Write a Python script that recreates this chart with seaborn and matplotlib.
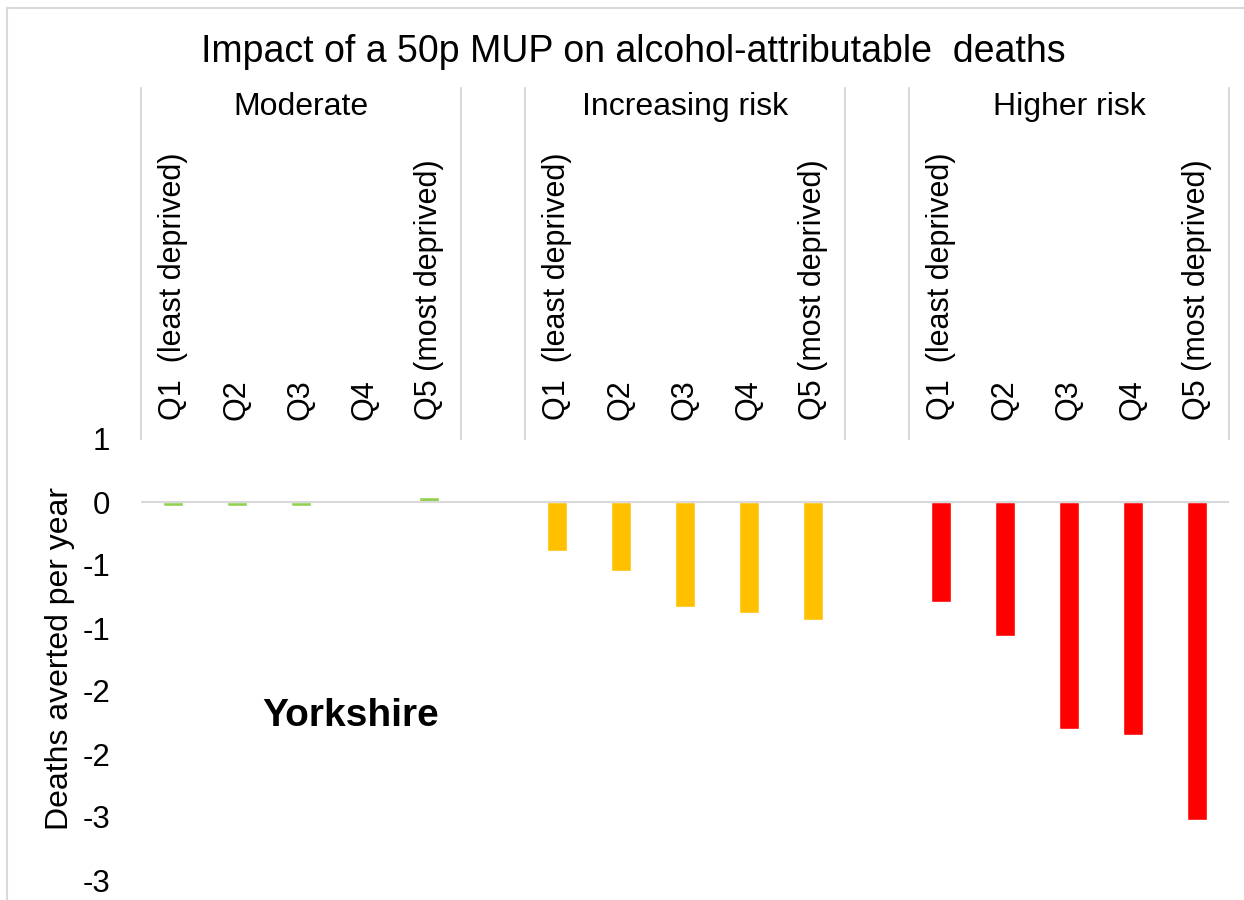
import matplotlib
matplotlib.use("Agg")
import pandas as pd
import matplotlib.pyplot as plt
from matplotlib.lines import Line2D
from matplotlib.transforms import blended_transform_factory
import seaborn as sns

# data
groups = ["Moderate", "Increasing risk", "Higher risk"]
quintiles = ["Q1  (least deprived)", "Q2", "Q3", "Q4", "Q5 (most deprived)"]
moderate = [-0.03, -0.03, -0.03, -0.01, 0.04]
increasing_risk = [-0.39, -0.55, -0.83, -0.88, -0.94]
higher_risk = [-0.79, -1.06, -1.80, -1.85, -2.52]
group_colors = ["#92D050", "#FFC000", "#FF0000"]
ytick_values = [0.5, 0.0, -0.5, -1.0, -1.5, -2.0, -2.5, -3.0]
ytick_labels = ["1", "0", "-1", "-1", "-2", "-2", "-3", "-3"]

# build long table, with an empty slot between groups
rows = []
order = []
tick_text = []
for gi, (g, vals) in enumerate(zip(groups, [moderate, increasing_risk, higher_risk])):
    if gi > 0:
        order.append(f"gap{gi}")
        tick_text.append("")
    for q, v in zip(quintiles, vals):
        slot = f"{g}|{q}"
        rows.append({"slot": slot, "group": g, "value": v})
        order.append(slot)
        tick_text.append(q)
df = pd.DataFrame(rows)

sns.set_theme(style="white")
plt.rcParams["font.family"] = ["Liberation Sans", "DejaVu Sans"]
plt.rcParams["text.color"] = "black"
plt.rcParams["xtick.color"] = "black"
plt.rcParams["ytick.color"] = "black"

W, H = 1244, 900
fig = plt.figure(figsize=(W / 100, H / 100), dpi=100)
ax = fig.add_axes([141 / W, 20 / H, 1088 / W, 441 / H])

sns.barplot(data=df, x="slot", y="value", hue="group", order=order, hue_order=groups,
            palette=dict(zip(groups, group_colors)), dodge=False, width=0.31,
            saturation=1, legend=False, ax=ax)

ax.axhline(0, color="#D9D9D9", lw=1.5, zorder=3)
ax.set_xlim(-0.5, len(order) - 0.5)
ax.set_ylim(-3.0, 0.5)
ax.set_xticks(range(len(order)))
ax.set_xticklabels(tick_text, rotation=90, fontsize=22)
ax.tick_params(axis="x", top=False, bottom=False, labeltop=True, labelbottom=False, length=0, pad=14)
ax.set_yticks(ytick_values)
ax.set_yticklabels(ytick_labels, fontsize=22.5)
ax.tick_params(axis="y", length=0, pad=22)
ax.set_xlabel("")
ax.set_ylabel("")
for s in ax.spines.values():
    s.set_visible(False)

# group separators and group names above the plot area
trans = blended_transform_factory(ax.transData, fig.transFigure)
for x in [-0.5, 4.5, 5.5, 10.5, 11.5, 16.5]:
    ax.plot([x, x], [1 - 88 / H, 1 - 439 / H], transform=trans, clip_on=False,
            color="#D9D9D9", lw=1.5)
for gi, g in enumerate(groups):
    ax.text(2 + gi * 6, 1 - 107 / H, g, transform=trans, ha="center", va="center", fontsize=23)

fig.text(60 / W, 1 - 659 / H, "Deaths averted per year", rotation=90, ha="center", va="center", fontsize=23)
fig.text(633 / W, 1 - 52 / H, "Impact of a 50p MUP on alcohol-attributable  deaths",
         ha="center", va="center", fontsize=27)
fig.text(351 / W, 1 - 716 / H, "Yorkshire", ha="center", va="center", fontsize=28, fontweight="bold")

# chart area border (top and left visible)
fig.add_artist(Line2D([7 / W, 7 / W], [0, 1 - 8 / H], transform=fig.transFigure, color="#D9D9D9", lw=1.5))
fig.add_artist(Line2D([7 / W, 1], [1 - 8 / H, 1 - 8 / H], transform=fig.transFigure, color="#D9D9D9", lw=1.5))

fig.savefig("out.png", dpi=100)
